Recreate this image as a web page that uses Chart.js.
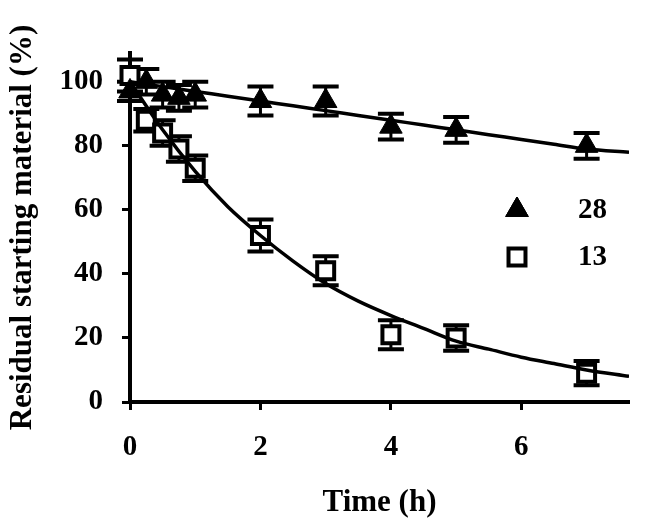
<!DOCTYPE html>
<html>
<head>
<meta charset="utf-8">
<script src="https://cdn.jsdelivr.net/npm/chart.js@4.4.1/dist/chart.umd.min.js"></script>
<style>
  html, body { margin: 0; padding: 0; background: #fff; }
  #wrap { width: 645px; height: 518px; }
</style>
</head>
<body>
<div id="wrap"><canvas id="decayChart" width="645" height="518"></canvas></div>
<script>
// measured points (time in h, residual %)
const time28 = [0, 0.25, 0.5, 0.75, 1, 2, 3, 4, 5, 7];
const val28 = [97, 100, 96, 95, 96, 94, 94, 86, 85, 80];
const err28 = [3, 4, 4, 4, 4, 4.5, 4.5, 4, 4, 4];

const time13 = [0, 0.25, 0.5, 0.75, 1, 2, 3, 4, 5, 7];
const val13 = [102, 88, 84, 79, 73, 52, 41, 21, 20, 9];
const err13 = [5, 3.5, 4, 4, 4, 5, 4.5, 4.5, 4, 3.8];

// fitted curves
const fitTime = [0, 0.5, 1, 1.5, 2, 2.5, 3, 3.5, 4, 4.5, 5, 5.5, 6, 6.5, 7, 7.65];
const fit28 = [100, 98.5, 97, 95.5, 94, 92.5, 91, 89.5, 88, 86.5, 85, 83.5, 82, 80.5, 79, 78];
const fit13 = [100, 85, 72, 61, 52, 44, 37, 31.5, 27, 23, 19, 16.5, 14, 12, 10, 8];

// axis ticks
const xTicks = [0, 2, 4, 6];
const yTicks = [0, 20, 40, 60, 80, 100];

const FONT = "'Liberation Serif', 'Times New Roman', serif";

function toPoints(xs, ys) {
  return xs.map((t, i) => ({ x: t, y: ys[i] }));
}

// Fehlerbalken unter die Punkte zeichnen
const errorBars = {
  id: "errorBars",
  beforeDatasetsDraw(chart) {
    const { ctx, scales: { x, y } } = chart;
    ctx.save();
    ctx.strokeStyle = "#000";
    chart.data.datasets.forEach(ds => {
      if (!ds.errors) return;
      ds.data.forEach((p, i) => {
        const px = x.getPixelForValue(p.x);
        const top = y.getPixelForValue(p.y + ds.errors[i]);
        const bot = y.getPixelForValue(p.y - ds.errors[i]);
        ctx.lineWidth = 3;
        ctx.beginPath();
        ctx.moveTo(px, top);
        ctx.lineTo(px, bot);
        ctx.stroke();
        ctx.lineWidth = 4;
        ctx.beginPath();
        ctx.moveTo(px - 13, top);
        ctx.lineTo(px + 13, top);
        ctx.moveTo(px - 13, bot);
        ctx.lineTo(px + 13, bot);
        ctx.stroke();
      });
    });
    ctx.restore();
  }
};

// Legende im Diagramm (rechts mittig)
const insideLegend = {
  id: "insideLegend",
  afterDraw(chart) {
    const { ctx } = chart;
    const entries = chart.data.datasets.filter(ds => ds.legendText);
    ctx.save();
    entries.forEach((ds, i) => {
      const cy = 210 + i * 47;
      Chart.helpers.drawPoint(ctx, {
        pointStyle: ds.pointStyle,
        radius: ds.pointRadius,
        borderWidth: ds.pointBorderWidth
      }, 517, cy);
      ctx.fillStyle = ds.pointBackgroundColor;
      ctx.strokeStyle = "#000";
      ctx.lineWidth = ds.pointBorderWidth;
      ctx.fill();
      ctx.stroke();
      ctx.fillStyle = "#000";
      ctx.font = "bold 29px " + FONT;
      ctx.textAlign = "left";
      ctx.textBaseline = "middle";
      ctx.fillText(ds.legendText, 578, cy + 1);
    });
    ctx.restore();
  }
};

new Chart(document.getElementById("decayChart"), {
  type: "scatter",
  data: {
    datasets: [
      {
        label: "fit 28",
        data: toPoints(fitTime, fit28),
        showLine: true,
        borderColor: "#000",
        borderWidth: 3.5,
        pointRadius: 0,
        cubicInterpolationMode: "monotone",
        order: 0
      },
      {
        label: "fit 13",
        data: toPoints(fitTime, fit13),
        showLine: true,
        borderColor: "#000",
        borderWidth: 3.5,
        pointRadius: 0,
        cubicInterpolationMode: "monotone",
        order: 0
      },
      {
        label: "28",
        legendText: "28",
        data: toPoints(time28, val28),
        errors: err28,
        pointStyle: "triangle",
        pointRadius: 13,
        pointBorderWidth: 1,
        pointBackgroundColor: "#000",
        pointBorderColor: "#000",
        clip: false,
        order: 1
      },
      {
        label: "13",
        legendText: "13",
        data: toPoints(time13, val13),
        errors: err13,
        pointStyle: "rect",
        pointRadius: 12,
        pointBorderWidth: 4,
        pointBackgroundColor: "#fff",
        pointBorderColor: "#000",
        clip: false,
        order: 1
      }
    ]
  },
  options: {
    responsive: false,
    animation: false,
    devicePixelRatio: 1,
    layout: { padding: { top: 53, right: 13, left: 0, bottom: 0 } },
    plugins: {
      legend: { display: false },
      tooltip: { enabled: false }
    },
    scales: {
      x: {
        type: "linear",
        min: 0,
        max: 7.65,
        afterFit(scale) { scale.height = 116; },
        afterBuildTicks(scale) { scale.ticks = xTicks.map(v => ({ value: v })); },
        grid: {
          drawOnChartArea: false,
          drawTicks: true,
          tickLength: 8,
          tickWidth: 3,
          tickColor: "#000"
        },
        border: { display: true, color: "#000", width: 4 },
        ticks: {
          color: "#000",
          padding: 20,
          maxRotation: 0,
          font: { family: FONT, size: 29, weight: "bold" }
        },
        title: {
          display: true,
          text: "Time (h)",
          color: "#000",
          padding: { top: 0, bottom: 0 },
          font: { family: FONT, size: 31, weight: "bold", lineHeight: 1 }
        }
      },
      y: {
        min: 0,
        max: 109,
        afterFit(scale) { scale.width = 130; },
        afterBuildTicks(scale) { scale.ticks = yTicks.map(v => ({ value: v })); },
        grid: {
          drawOnChartArea: false,
          drawTicks: true,
          tickLength: 8,
          tickWidth: 3,
          tickColor: "#000"
        },
        border: { display: true, color: "#000", width: 4 },
        ticks: {
          color: "#000",
          padding: 19,
          font: { family: FONT, size: 29, weight: "bold" }
        },
        title: {
          display: true,
          text: "Residual starting material (%)",
          color: "#000",
          padding: { top: 7, bottom: 0 },
          font: { family: FONT, size: 31, weight: "bold", lineHeight: 1 }
        }
      }
    }
  },
  plugins: [errorBars, insideLegend]
});
</script>
</body>
</html>
